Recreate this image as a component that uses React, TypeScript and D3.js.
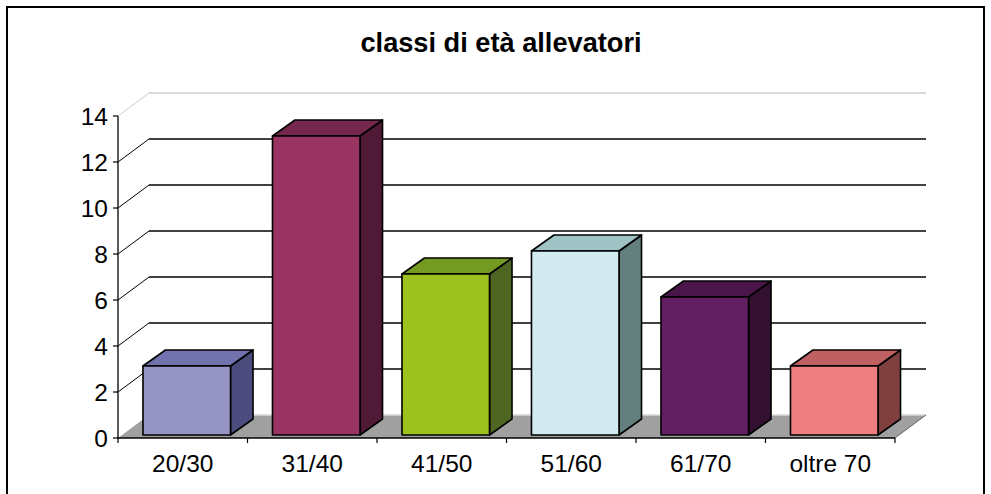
import React from 'react';
import * as d3 from 'd3';

const categories = ['20/30', '31/40', '41/50', '51/60', '61/70', 'oltre 70'];
const values = [3, 13, 7, 8, 6, 3];
const yTicks = [0, 2, 4, 6, 8, 10, 12, 14];
const title = 'classi di età allevatori';

// front / top / side shades for each bar
const frontColors = ['#9795C6', '#983362', '#9DC11F', '#D3EAF1', '#621F62', '#EE7E80'];
const topColors = ['#7272AE', '#75274E', '#759A21', '#9FC3C4', '#4A1549', '#BF6062'];
const sideColors = ['#4C4C7E', '#4F1A35', '#4E6622', '#637F7E', '#331030', '#804040'];

const W = 991;
const H = 494;
const font = '"Liberation Sans", Arial, sans-serif';

const App = () => {
  const x0 = 118;
  const x1 = 895;
  const y = d3.scaleLinear().domain([0, 14]).range([438, 116]);
  const xCat = d3.scaleBand<string>().domain(categories).range([x0, x1]);
  const xBar = d3.scaleBand<string>().domain(categories).range([x0, x1])
    .paddingInner(0.324).paddingOuter(0.162);

  // wall depth and bar depth offsets
  const dx = 31, dy = -23;
  const fx = 4, fy = -3;
  const bx = 22.5, by = -16;

  const floor = [
    [x0, y(0)], [x1, y(0)], [x1 + dx, y(0) + dy], [x0 + dx, y(0) + dy]
  ].map(p => p.join(',')).join(' ');

  return (
    <svg width={W} height={H} style={{ position: 'absolute', left: 0, top: 0, background: '#fff' }}>
      <rect x={7} y={7} width={977} height={500} fill="#fff" stroke="#000" strokeWidth={2} />
      <text x={501} y={52} textAnchor="middle" fontFamily={font} fontSize={27.2} fontWeight="bold">{title}</text>

      {/* floor */}
      <polygon points={floor} fill="#A0A0A0" stroke="none" />
      <line x1={x0 + dx} y1={y(0) + dy} x2={x1 + dx} y2={y(0) + dy} stroke="#D8D8D8" strokeWidth={1.5} />
      <line x1={x1} y1={y(0)} x2={x1 + dx} y2={y(0) + dy} stroke="#666" strokeWidth={1} />

      {/* back gridlines */}
      {yTicks.filter(t => t > 0).map(t => {
        const c = t === 14 ? '#CCCCCC' : '#000';
        return (
          <g key={t}>
            <line x1={x0} y1={y(t)} x2={x0 + dx} y2={y(t) + dy} stroke={c} strokeWidth={1} />
            <line x1={x0 + dx} y1={y(t) + dy} x2={x1 + dx} y2={y(t) + dy} stroke={c} strokeWidth={1.3} />
          </g>
        );
      })}

      {/* bars */}
      {categories.map((c, i) => {
        const left = (xBar(c) as number) + fx;
        const right = left + xBar.bandwidth();
        const top = y(values[i]) + fy;
        const bottom = y(0) + fy;
        const topFace = [[left, top], [right, top], [right + bx, top + by], [left + bx, top + by]];
        const sideFace = [[right, top], [right + bx, top + by], [right + bx, bottom + by], [right, bottom]];
        return (
          <g key={c} stroke="#000" strokeWidth={1.6} strokeLinejoin="round">
            <polygon points={sideFace.map(p => p.join(',')).join(' ')} fill={sideColors[i]} />
            <polygon points={topFace.map(p => p.join(',')).join(' ')} fill={topColors[i]} />
            <rect x={left} y={top} width={right - left} height={bottom - top} fill={frontColors[i]} />
          </g>
        );
      })}

      {/* y axis */}
      <line x1={x0} y1={y(14)} x2={x0} y2={y(0) + 1} stroke="#000" strokeWidth={1.3} />
      {yTicks.map(t => (
        <g key={t}>
          <line x1={x0 - 5} y1={y(t)} x2={x0} y2={y(t)} stroke="#000" strokeWidth={1.2} />
          <text x={x0 - 10} y={y(t) + 8.7} textAnchor="end" fontFamily={font} fontSize={24.5}>{t}</text>
        </g>
      ))}

      {/* x axis */}
      <line x1={x0} y1={y(0)} x2={x1} y2={y(0)} stroke="#000" strokeWidth={1.3} />
      {categories.concat(['']).map((c, i) => {
        const xx = i < categories.length ? (xCat(c) as number) : x1;
        return <line key={'t' + i} x1={xx} y1={y(0)} x2={xx} y2={y(0) + 5} stroke="#000" strokeWidth={1.2} />;
      })}
      {categories.map(c => (
        <text key={c} x={(xCat(c) as number) + xCat.bandwidth() / 2} y={472} textAnchor="middle"
          fontFamily={font} fontSize={24.5}>{c}</text>
      ))}
    </svg>
  );
};

export default App;
